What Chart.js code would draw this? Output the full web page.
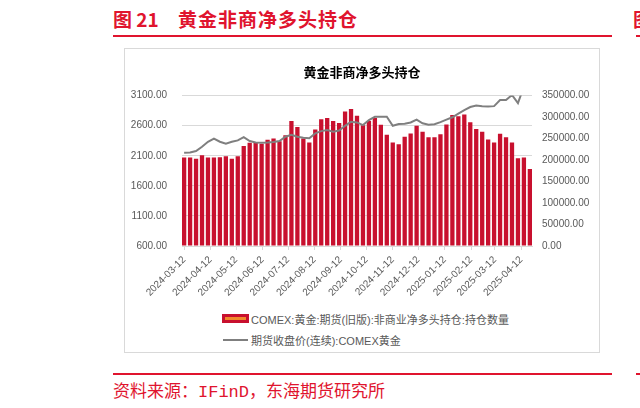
<!DOCTYPE html>
<html>
<head>
<meta charset="utf-8">
<script src="https://cdn.jsdelivr.net/npm/chart.js@4.4.1/dist/chart.umd.min.js"></script>
<style>
    body {margin: 0; width: 640px; height: 408px; background: #fff; position: relative; overflow: hidden; font-family: "Noto Sans CJK SC", sans-serif;}
    .red {color: #E0142E; position: absolute; white-space: nowrap;}
    #h1 {left: 113px; top: 6px; font-size: 19px; font-weight: bold; line-height: 26px;}
    #h2 {left: 178px; top: 6px; font-size: 19px; font-weight: bold; line-height: 26px; letter-spacing: 1px;}
    #h3 {left: 633px; top: 6px; font-size: 19px; font-weight: bold; line-height: 26px;}
    .rule {position: absolute; height: 2px; background: #E0142E;}
    #foot {left: 113px; top: 378px; font-size: 17px; line-height: 24px;}
    #foot span {font-family: "Liberation Mono", monospace;}
    #box {position: absolute; left: 124px; top: 48px; width: 476px; height: 305px; border: 1px solid #d9d9d9; box-sizing: border-box;}
    #myChart {position: absolute; left: 124px; top: 48px;}
    #legend {position: absolute; left: 222px; top: 308px; font-size: 11px; color: #595959; font-family: "Liberation Sans", "Noto Sans CJK SC", sans-serif;}
    .row {height: 21px; display: flex; align-items: center; white-space: nowrap;}
    .mk {width: 27px; height: 9px; margin-right: 2px; position: relative;}
</style>
</head>
<body>
<div class="red" id="h1">图 21</div>
<div class="red" id="h2">黄金非商净多头持仓</div>
<div class="red" id="h3">图</div>
<div class="rule" style="left:113px;top:35px;width:499px;"></div>
<div class="rule" style="left:636px;top:35px;width:10px;"></div>
<div id="box"></div>
<canvas id="myChart" width="476" height="258"></canvas>
<div id="legend"></div>
<div class="rule" style="left:113px;top:373px;width:499px;"></div>
<div class="rule" style="left:636px;top:373px;width:10px;"></div>
<div class="red" id="foot">资料来源：<span>IFinD</span>，东海期货研究所</div>
<script>
    // weekly report dates (categories)
    const weekDates = [
        '2024-03-12', '2024-03-19', '2024-03-26', '2024-04-02', '2024-04-09', '2024-04-16', '2024-04-23', '2024-04-30',
        '2024-05-07', '2024-05-14', '2024-05-21', '2024-05-28', '2024-06-04', '2024-06-11', '2024-06-18', '2024-06-25',
        '2024-07-02', '2024-07-09', '2024-07-16', '2024-07-23', '2024-07-30', '2024-08-06', '2024-08-13', '2024-08-20',
        '2024-08-27', '2024-09-03', '2024-09-10', '2024-09-17', '2024-09-24', '2024-10-01', '2024-10-08', '2024-10-15',
        '2024-10-22', '2024-10-29', '2024-11-05', '2024-11-12', '2024-11-19', '2024-11-26', '2024-12-03', '2024-12-10',
        '2024-12-17', '2024-12-24', '2024-12-31', '2025-01-07', '2025-01-14', '2025-01-21', '2025-01-28', '2025-02-04',
        '2025-02-11', '2025-02-18', '2025-02-25', '2025-03-04', '2025-03-11', '2025-03-18', '2025-03-25', '2025-04-01',
        '2025-04-08', '2025-04-15', '2025-04-22'
    ];

    // COMEX gold non-commercial net long (contracts), right axis
    const netLong = [
        206000, 206000, 203000, 211000, 206000, 206000, 206500, 209000, 203000, 209000,
        233000, 240000, 240000, 238000, 247000, 250000, 244000, 258000, 291000, 277000,
        250000, 241000, 271000, 295000, 298000, 291000, 286000, 313000, 319000, 303000,
        281000, 291000, 298000, 282000, 259000, 241000, 237000, 254000, 262000, 280000,
        266000, 253000, 253000, 260000, 283000, 305000, 302000, 306000, 288000, 272000,
        266000, 248000, 241000, 261000, 253000, 241000, 204000, 206000, 179000
    ];

    // COMEX gold continuous close, left axis
    const goldClose = [
        2150, 2155, 2178, 2250, 2333, 2385, 2333, 2300, 2333, 2356,
        2410, 2345, 2320, 2316, 2320, 2330, 2345, 2416, 2450, 2416,
        2400, 2392, 2472, 2510, 2527, 2499, 2520, 2598, 2665, 2654,
        2610, 2693, 2748, 2748, 2748, 2598, 2627, 2632, 2654, 2700,
        2640, 2615, 2625, 2660, 2700, 2740, 2800, 2860, 2910, 2935,
        2925, 2920, 2925, 3025, 3025, 3110, 2975, 3250, 3400
    ];

    const tickLabels = [
        '2024-03-12', '2024-04-12', '2024-05-12', '2024-06-12', '2024-07-12', '2024-08-12', '2024-09-12',
        '2024-10-12', '2024-11-12', '2024-12-12', '2025-01-12', '2025-02-12', '2025-03-12', '2025-04-12'
    ];

    const barLabel = 'COMEX:黄金:期货(旧版):非商业净多头持仓:持仓数量';
    const lineLabel = '期货收盘价(连续):COMEX黄金';

    const day0 = Date.parse(weekDates[0]);
    const dayOf = d => (Date.parse(d) - day0) / 864e5;

    const fam = '"Liberation Sans", "Noto Sans CJK SC", sans-serif';
    const ctx = document.getElementById('myChart');

    let myChart = new Chart(ctx, {
        type: 'bar',
        data: {
            datasets: [
                {
                    type: 'line',
                    label: lineLabel,
                    data: weekDates.map((d, i) => ({x: dayOf(d), y: goldClose[i]})),
                    yAxisID: 'y',
                    borderColor: '#7f7f7f',
                    borderWidth: 2,
                    pointRadius: 0,
                    tension: 0,
                    order: 0
                },
                {
                    type: 'bar',
                    label: barLabel,
                    data: weekDates.map((d, i) => ({x: dayOf(d), y: netLong[i]})),
                    yAxisID: 'y1',
                    backgroundColor: '#C8102E',
                    barPercentage: 0.72,
                    categoryPercentage: 1,
                    order: 1
                }
            ]
        },
        options: {
            responsive: false,
            animation: false,
            devicePixelRatio: 1,
            layout: {padding: 0},
            plugins: {
                legend: {display: false},
                tooltip: {enabled: false},
                title: {
                    display: true,
                    text: '黄金非商净多头持仓',
                    color: '#000',
                    font: {family: '"Noto Sans CJK SC", sans-serif', size: 13, weight: 'bold'},
                    padding: {top: 16, bottom: 16}
                }
            },
            scales: {
                x: {
                    type: 'linear',
                    offset: false,
                    min: -2.5,
                    max: 408.5,
                    afterBuildTicks: s => { s.ticks = tickLabels.map(t => ({value: dayOf(t)})); },
                    afterFit: s => { s.height = 60; },
                    ticks: {
                        callback: (v, i) => tickLabels[i],
                        autoSkip: false,
                        minRotation: 45,
                        maxRotation: 45,
                        padding: 4,
                        color: '#595959',
                        font: {family: fam, size: 10}
                    },
                    grid: {offset: false, drawOnChartArea: false, drawTicks: true, tickLength: 4, color: '#d9d9d9'},
                    border: {color: '#d9d9d9'}
                },
                y: {
                    position: 'left',
                    min: 600,
                    max: 3100,
                    afterFit: s => { s.width = 58; },
                    ticks: {
                        stepSize: 500,
                        callback: v => v.toFixed(2),
                        padding: 15,
                        color: '#595959',
                        font: {family: fam, size: 10}
                    },
                    grid: {color: '#d9d9d9', drawTicks: false},
                    border: {display: false}
                },
                y1: {
                    position: 'right',
                    min: 0,
                    max: 350000,
                    afterFit: s => { s.width = 68; },
                    ticks: {
                        stepSize: 50000,
                        callback: v => v.toFixed(2),
                        padding: 10,
                        color: '#595959',
                        font: {family: fam, size: 10}
                    },
                    grid: {drawOnChartArea: false, drawTicks: false},
                    border: {display: false}
                }
            }
        }
    });

    // legend rows, bar series first like the original
    const legend = document.getElementById('legend');
    [myChart.data.datasets[1], myChart.data.datasets[0]].forEach(function (ds) {
        const row = document.createElement('div');
        row.className = 'row';
        const mk = document.createElement('div');
        mk.className = 'mk';
        if (ds.type === 'bar') {
            mk.style.background = ds.backgroundColor;
            mk.innerHTML = '<div style="position:absolute;left:3px;right:3px;top:3px;height:3px;background:#F0892B"></div>';
        } else {
            mk.innerHTML = '<div style="position:absolute;left:1px;right:1px;top:4px;height:2px;background:' + ds.borderColor + '"></div>';
        }
        row.appendChild(mk);
        row.appendChild(document.createTextNode(ds.label));
        legend.appendChild(row);
    });
</script>
</body>
</html>
